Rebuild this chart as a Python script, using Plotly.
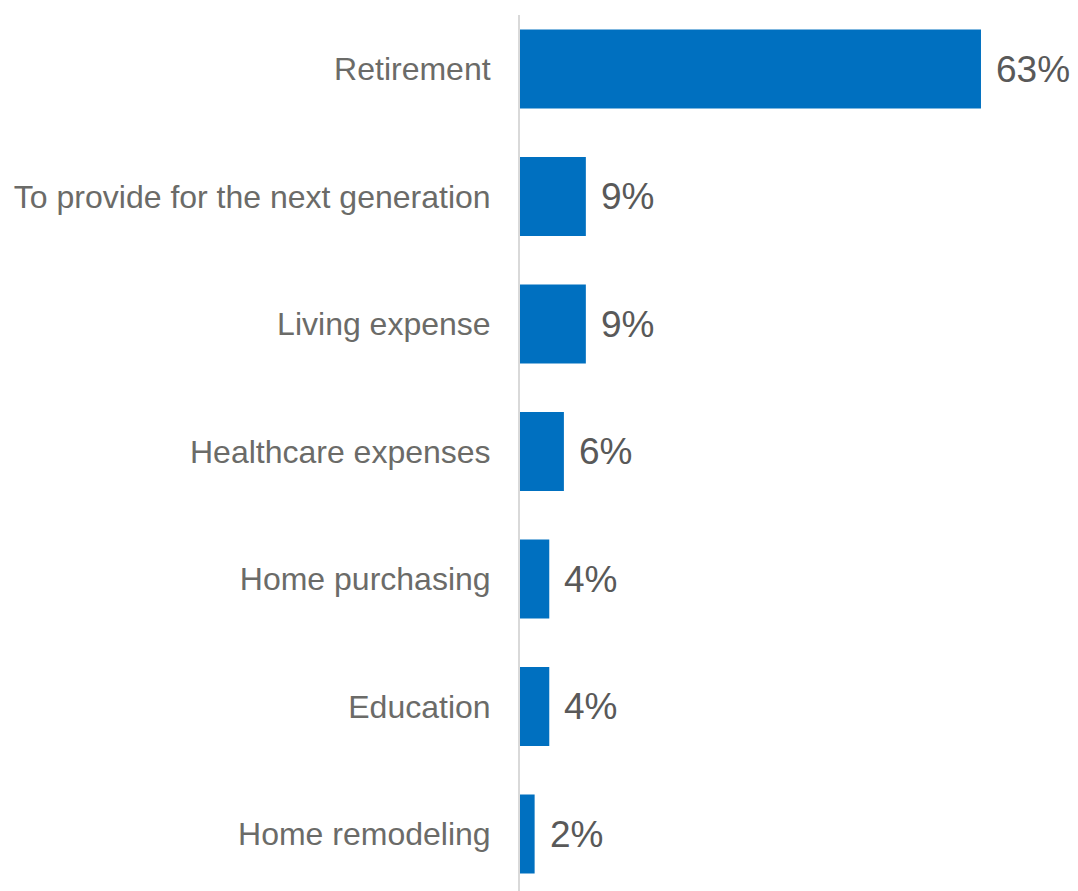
import plotly.graph_objects as go

# Share of respondents by primary savings goal
categories = [
    "Retirement",
    "To provide for the next generation",
    "Living expense",
    "Healthcare expenses",
    "Home purchasing",
    "Education",
    "Home remodeling",
]
shares = [63, 9, 9, 6, 4, 4, 2]
value_labels = [f"{v}%" for v in shares]

BAR_COLOR = "#0070C0"
FONT = "Liberation Sans, Arial, sans-serif"

fig = go.Figure(
    go.Bar(
        x=shares,
        y=categories,
        orientation="h",
        marker=dict(color=BAR_COLOR, line=dict(width=0)),
        width=0.62,
        hoverinfo="skip",
    )
)

# Value labels just past the end of each bar
for cat, val, lab in zip(categories, shares, value_labels):
    fig.add_annotation(
        x=val,
        y=cat,
        text=lab,
        showarrow=False,
        xanchor="left",
        yanchor="middle",
        xshift=13,
        font=dict(family=FONT, size=37, color="#595959"),
    )

fig.update_layout(
    width=1078,
    height=891,
    margin=dict(l=520, r=0, t=15, b=0),
    paper_bgcolor="white",
    plot_bgcolor="white",
    showlegend=False,
    xaxis=dict(
        range=[0, 76.26],
        visible=False,
        fixedrange=True,
    ),
    yaxis=dict(
        categoryorder="array",
        categoryarray=categories,
        range=[6.447, -0.4235],
        showline=True,
        linecolor="#D9D9D9",
        linewidth=2,
        showgrid=False,
        zeroline=False,
        ticks="",
        ticklabelstandoff=21,
        tickfont=dict(family=FONT, size=32, color="#6B6B68"),
        fixedrange=True,
    ),
)

fig.write_html("out.html")
